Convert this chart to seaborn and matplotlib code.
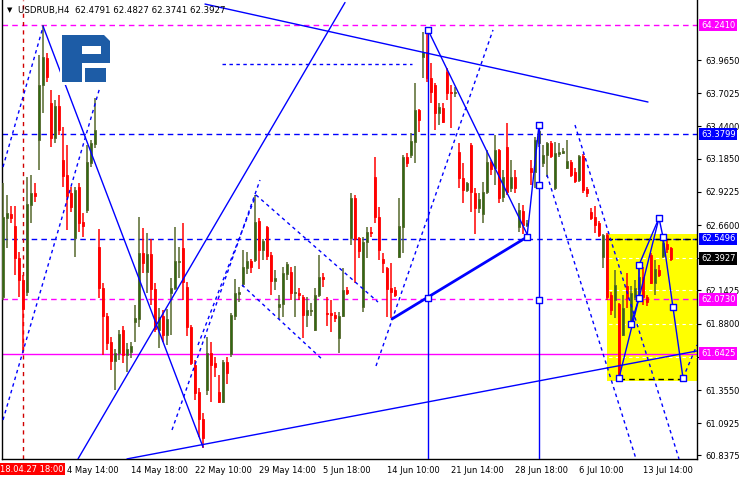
import numpy as np
import pandas as pd
import matplotlib
matplotlib.use("Agg")
import matplotlib.pyplot as plt
import matplotlib.transforms as mtransforms
from matplotlib.patches import Rectangle, Polygon
import seaborn as sns

sns.set_theme(style="white")
plt.rcParams['font.family'] = ['DejaVu Sans']

# USDRUB H4 candles
opens = [62.09, 62.716, 62.747, 62.652, 62.399, 62.225, 62.13, 62.818, 62.913, 63.333,
         63.768, 63.981, 63.625, 63.348, 63.602, 63.174, 63.056, 62.913, 62.557, 62.96,
         62.684, 62.779, 63.151, 63.301, 62.486, 62.162, 61.94, 61.735, 61.584, 61.648,
         61.83, 61.632, 61.656, 61.893, 61.917, 62.439, 62.288, 62.431, 62.154, 61.83,
         61.94, 61.79, 62.122, 62.162, 62.368, 62.478, 62.17, 61.853, 61.553, 61.339,
         61.126, 61.355, 61.648, 61.569, 61.339, 61.26, 61.577, 61.64, 61.94, 62.114,
         62.193, 62.32, 62.376, 62.383, 62.692, 62.463, 62.644, 62.423, 62.217, 62.012,
         62.036, 62.273, 62.288, 62.122, 62.122, 62.091, 61.948, 61.98, 61.83, 62.106,
         62.249, 61.964, 61.964, 61.948, 61.767, 61.94, 62.146, 62.557, 62.874, 62.557,
         62.012, 62.526, 62.605, 63.04, 62.724, 62.391, 62.32, 62.162, 62.146, 62.407,
         62.644, 63.198, 63.214, 63.317, 63.57, 63.989, 64.029, 63.823, 63.768, 63.546,
         63.586, 63.87, 63.712, 63.704, 63.238, 63.032, 62.937, 63.293, 62.913, 62.795,
         62.747, 62.921, 63.159, 63.111, 63.254, 62.882, 63.277, 62.953, 63.04, 62.644,
         62.771, 62.66, 63.111, 63.079, 63.309, 63.151, 63.214, 63.309, 62.953, 63.222,
         63.23, 63.111, 63.159, 63.079, 63.016, 63.206, 62.945, 62.763, 62.724, 62.676,
         62.407, 62.581, 62.106, 62.067, 62.036, 61.79, 62.178, 61.869, 62.091, 62.154,
         62.249, 62.091, 62.423, 62.201, 62.304, 62.415, 62.51, 62.4791]
highs = [62.99, 62.898, 62.81, 62.81, 62.447, 62.265, 63.04, 63.056, 62.992, 64.005,
         64.24, 64.021, 63.728, 63.649, 63.689, 63.435, 63.293, 62.96, 62.96, 62.992,
         62.755, 63.293, 63.333, 63.665, 62.629, 62.201, 61.964, 61.774, 61.679, 61.83,
         61.861, 61.727, 61.735, 62.027, 62.724, 62.637, 62.597, 62.55, 62.201, 62.004,
         61.988, 61.996, 62.241, 62.644, 62.486, 62.676, 62.21, 61.869, 61.592, 61.371,
         61.173, 61.774, 61.735, 61.616, 61.474, 61.592, 61.616, 61.964, 62.233, 62.17,
         62.463, 62.447, 62.391, 62.898, 62.716, 62.55, 62.652, 62.447, 62.304, 62.106,
         62.328, 62.368, 62.328, 62.336, 62.162, 62.106, 62.091, 62.043, 62.162, 62.423,
         62.281, 62.091, 62.067, 61.972, 61.972, 62.32, 62.17, 62.913, 62.898, 62.565,
         62.565, 62.644, 62.644, 63.198, 62.802, 62.439, 62.328, 62.36, 62.17, 62.874,
         63.214, 63.23, 63.388, 63.783, 63.578, 64.187, 64.203, 63.941, 63.783, 63.625,
         63.625, 63.902, 63.768, 63.752, 63.309, 63.151, 63.0, 63.309, 62.953, 62.913,
         63.0, 63.254, 63.174, 63.372, 63.261, 63.095, 63.467, 63.174, 63.095, 62.834,
         62.818, 62.7, 63.174, 63.356, 63.451, 63.293, 63.317, 63.325, 63.317, 63.309,
         63.269, 63.333, 63.174, 63.111, 63.214, 63.222, 62.96, 62.795, 62.81, 62.692,
         62.589, 62.597, 62.13, 62.304, 62.043, 62.106, 62.281, 62.178, 62.225, 62.344,
         62.328, 62.106, 62.439, 62.383, 62.344, 62.565, 62.542, 62.4827]
lows = [62.07, 62.478, 62.676, 62.265, 62.09, 61.648, 62.099, 62.676, 62.842, 63.095,
        63.546, 63.791, 63.277, 63.309, 63.372, 62.96, 62.621, 62.763, 62.407, 62.605,
        62.565, 62.755, 63.119, 63.269, 62.083, 61.632, 61.672, 61.513, 61.355, 61.592,
        61.569, 61.497, 61.608, 61.735, 61.853, 62.281, 62.122, 62.027, 61.814, 61.687,
        61.735, 61.711, 61.79, 62.146, 62.241, 62.067, 61.782, 61.553, 61.276, 60.983,
        60.896, 61.315, 61.26, 61.458, 61.252, 61.252, 61.403, 61.616, 61.909, 62.051,
        62.17, 62.273, 62.281, 62.368, 62.312, 62.383, 62.383, 62.106, 62.146, 61.917,
        61.933, 62.225, 62.067, 61.933, 62.067, 61.767, 61.853, 61.94, 61.822, 62.091,
        62.17, 61.861, 61.814, 61.893, 61.648, 61.933, 62.106, 62.502, 62.201, 62.399,
        61.972, 62.399, 62.565, 62.676, 62.383, 62.281, 61.933, 61.925, 62.091, 62.399,
        62.439, 63.119, 63.19, 63.151, 63.396, 63.823, 63.791, 63.625, 63.412, 63.451,
        63.467, 63.649, 63.428, 63.673, 62.953, 62.834, 62.921, 62.763, 62.589, 62.755,
        62.676, 62.905, 63.056, 62.976, 62.834, 62.842, 62.898, 62.921, 62.913, 62.605,
        62.589, 62.644, 62.976, 62.953, 63.277, 63.119, 63.04, 63.19, 62.937, 63.198,
        63.222, 63.103, 63.04, 62.992, 63.0, 62.913, 62.882, 62.7, 62.597, 62.565,
        62.32, 62.067, 61.948, 61.925, 61.45, 61.782, 62.004, 61.853, 62.067, 62.083,
        62.027, 62.02, 62.193, 62.106, 62.249, 62.399, 62.439, 62.3741]
closes = [62.72, 62.755, 62.716, 62.399, 62.225, 61.996, 62.826, 62.913, 62.89, 63.768,
          63.989, 63.831, 63.348, 63.602, 63.412, 63.048, 62.89, 62.802, 62.937, 62.676,
          62.652, 63.159, 63.309, 63.412, 62.162, 61.94, 61.727, 61.584, 61.648, 61.798,
          61.632, 61.679, 61.703, 61.925, 62.439, 62.36, 62.431, 62.154, 61.838, 61.933,
          61.79, 61.917, 62.162, 62.376, 62.376, 62.21, 61.853, 61.569, 61.331, 61.126,
          60.975, 61.648, 61.553, 61.537, 61.26, 61.577, 61.49, 61.948, 62.122, 62.13,
          62.328, 62.376, 62.328, 62.684, 62.463, 62.534, 62.415, 62.217, 62.241, 62.036,
          62.281, 62.352, 62.122, 62.13, 62.106, 61.948, 61.988, 61.988, 62.106, 62.249,
          62.233, 61.956, 61.948, 61.925, 61.94, 62.146, 62.122, 62.874, 62.55, 62.455,
          62.526, 62.605, 62.597, 62.724, 62.463, 62.36, 62.154, 62.13, 62.106, 62.652,
          63.198, 63.151, 63.325, 63.57, 63.491, 64.029, 63.823, 63.712, 63.546, 63.594,
          63.475, 63.704, 63.704, 63.712, 63.032, 62.937, 62.992, 62.921, 62.795, 62.866,
          62.921, 63.159, 63.103, 63.254, 62.874, 63.04, 62.921, 63.04, 62.953, 62.779,
          62.66, 62.676, 63.079, 63.333, 63.404, 63.214, 63.309, 63.206, 63.23, 63.238,
          63.246, 63.166, 63.056, 63.008, 63.206, 62.937, 62.913, 62.716, 62.66, 62.581,
          62.581, 62.091, 61.988, 62.186, 61.458, 62.004, 62.083, 62.122, 62.162, 62.249,
          62.091, 62.051, 62.201, 62.312, 62.265, 62.518, 62.471, 62.3927]

time_ticks = [16, 32, 48, 64, 80, 96, 112, 128, 144, 160]
time_labels = ["4 May 14:00", "14 May 18:00", "22 May 10:00", "29 May 14:00", "5 Jun 18:00",
               "14 Jun 10:00", "21 Jun 14:00", "28 Jun 18:00", "6 Jul 10:00", "13 Jul 14:00"]
price_ticks = [63.9650, 63.7025, 63.4400, 63.1850, 62.9225, 62.6600, 62.3975,
               62.1425, 61.8800, 61.6175, 61.3550, 61.0925, 60.8375]
hidden_ticks = [62.3975, 61.6175]   # covered by the price tags

# horizontal levels: (price, colour, style)
levels = [(64.2410, "#ff00ff", "dash"), (63.3799, "#0000ff", "dash"),
          (62.5496, "#0000ff", "dash"), (62.0730, "#ff00ff", "dash"),
          (61.6425, "#ff00ff", "solid")]
level_tags = [(64.2410, "#ff00ff"), (63.3799, "#0000ff"), (62.5496, "#0000ff"),
              (62.3927, "#000000"), (62.0730, "#ff00ff"), (61.6425, "#ff00ff")]

# trend lines as (bar, price) pairs
solid_lines = [[(10, 64.234), (50, 60.904)],
               [(18.75, 60.81), (85.5, 64.42)],
               [(31, 60.81), (173.5, 61.664)],
               [(131, 62.565), (134, 63.451)],
               [(106.25, 64.203), (131, 62.589)],
               [(50.5, 64.408), (161.25, 63.633)],
               [(106.25, 64.203), (106.25, 60.81)],
               [(134, 63.451), (134, 60.81)],
               [(154, 61.45), (164, 62.716), (165, 62.565), (170, 61.45)],
               [(157, 61.877), (159, 62.083), (159, 62.344), (164, 62.716)]]
thick_line = [(97.25, 61.917), (131, 62.565)]
dashed_lines = [[(0, 63.119), (10, 64.226)],
                [(0, 61.118), (24.25, 63.752)],
                [(42.25, 61.039), (64.25, 63.016)],
                [(48.75, 61.711), (63.25, 62.898)],
                [(63.25, 62.898), (93.75, 62.051)],
                [(59.75, 62.186), (80, 61.592)],
                [(93.25, 61.545), (122.5, 64.203)],
                [(136, 63.056), (158.25, 60.81)],
                [(143, 63.451), (169, 60.81)],
                [(170, 61.45), (173.5, 61.711)],
                [(54.75, 63.934), (102.25, 63.934)]]
anchor_bars = [106.25, 106.25, 131, 134, 134, 134, 154, 157, 159, 159, 164, 165, 167.5, 170]
anchor_prices = [64.203, 62.083, 62.565, 63.451, 62.975, 62.067, 61.45, 61.877, 62.083,
                 62.344, 62.716, 62.565, 62.012, 61.45]
box_bars = (151, 173.5)
box_prices = (61.426, 62.589)
vline_bar = 5

bars = np.arange(len(opens))
df = pd.DataFrame({"bar": bars, "o": opens, "h": highs, "l": lows, "c": closes})
df["up"] = df["c"] >= df["o"]

fig = plt.figure(figsize=(7.4, 4.8), dpi=100)
ax = fig.add_axes([2 / 740, 21 / 480, 695 / 740, 459 / 480])
ax.set_xlim(-0.25, 173.5)
ax.set_ylim(60.8093, 64.44)

# yellow box and white grid
ax.add_patch(Rectangle((box_bars[0], box_prices[0]), box_bars[1] - box_bars[0],
                       box_prices[1] - box_prices[0], fc="#ffff00", ec="none", zorder=0.5))
for p in price_ticks:
    ax.axhline(p, color="white", lw=0.8, ls=(0, (3, 3)), zorder=1)

dash = (0, (4, 3))
for p, col, st in levels:
    ax.axhline(p, color=col, lw=1, ls="-" if st == "solid" else dash, zorder=2)
ax.plot([box_bars[0], box_bars[1]], [62.5496, 62.5496], color="black", lw=1, ls=dash, zorder=2.1)
ax.plot([154, 170], [61.442, 61.442], color="black", lw=1, ls=dash, zorder=2.1)
ax.axvline(vline_bar, color="#d00000", lw=1, ls=(0, (3, 3)), zorder=2)

# candles
bull_body, bull_wick, bear = "#2f6a14", "#56682c", "#ff0000"
for up, sub in df.groupby("up"):
    wick = bull_wick if up else bear
    body = bull_body if up else bear
    ax.vlines(sub["bar"], sub["l"], sub["h"], colors=wick, lw=1.1, zorder=3)
    bottoms = np.minimum(sub["o"], sub["c"])
    heights = np.maximum(np.abs(sub["c"] - sub["o"]), 0.006)
    ax.bar(sub["bar"], heights, bottom=bottoms, width=0.74, color=body,
           edgecolor=wick, linewidth=0.6, zorder=3.5)

# objects
for seg in solid_lines:
    xs, ys = zip(*seg)
    ax.plot(xs, ys, color="#0000ff", lw=1, zorder=4)
xs, ys = zip(*thick_line)
ax.plot(xs, ys, color="#0000ff", lw=2, zorder=4)
for seg in dashed_lines:
    xs, ys = zip(*seg)
    ax.plot(xs, ys, color="#0000ff", lw=1, ls=(0, (2.5, 2.5)), zorder=4)
sns.scatterplot(x=anchor_bars, y=anchor_prices, marker="s", s=16, color="white",
                edgecolor="#0000ff", linewidth=1, ax=ax, zorder=5, legend=False)

# axes styling
for s in ["left", "right", "bottom"]:
    ax.spines[s].set_color("black")
    ax.spines[s].set_linewidth(1)
ax.spines["top"].set_visible(False)
ax.yaxis.tick_right()
ax.set_yticks(price_ticks)
ax.set_yticklabels(["" if p in hidden_ticks else f"{p:.4f}" for p in price_ticks])
ax.set_xticks(time_ticks)
ax.set_xticklabels(time_labels, ha="left")
ax.tick_params(axis="both", direction="out", length=3, width=0.8, labelsize=6,
               colors="black", pad=2)
ax.tick_params(axis="y", pad=3)
ax.set_xlabel("")
ax.set_ylabel("")

trans = mtransforms.blended_transform_factory(ax.transAxes, ax.transData)
for p, col in level_tags:
    ax.text(1 + 4 / 695, p, f"{p:.4f}", transform=trans, ha="left", va="center",
            fontsize=6, color="white", clip_on=False, zorder=10,
            bbox=dict(boxstyle="square,pad=0.22", fc=col, ec="none"))

fig.text(0, 1 - 469 / 480, "18.04.27 18:00", ha="left", va="center",
         fontsize=6, color="white", bbox=dict(boxstyle="square,pad=0.15", fc="#ff0000", ec="none"))
fig.text(7 / 740, 1 - 10 / 480, "\u25bc", fontsize=5, va="center", ha="left", color="black")
fig.text(18 / 740, 1 - 10 / 480, "USDRUB,H4  62.4791 62.4827 62.3741 62.3927",
         fontsize=6.2, va="center", ha="left", color="black")

# broker logo
lax = fig.add_axes([60 / 740, 1 - 85 / 480, 52 / 740, 52 / 480], zorder=6)
lax.set_xlim(0, 52)
lax.set_ylim(52, 0)
lax.axis("off")
lax.add_patch(Rectangle((0, 0), 52, 52, fc="white", ec="none"))
logo_blue = "#1d5ca6"
lax.add_patch(Polygon([(2, 2), (44, 2), (50, 8), (50, 30), (22, 30), (22, 49), (2, 49)],
                      closed=True, fc=logo_blue, ec="none"))
lax.add_patch(Rectangle((22, 13), 19, 8, fc="white", ec="none"))
lax.add_patch(Rectangle((25, 35), 21, 14, fc=logo_blue, ec="none"))

fig.savefig("out.png", dpi=100)
